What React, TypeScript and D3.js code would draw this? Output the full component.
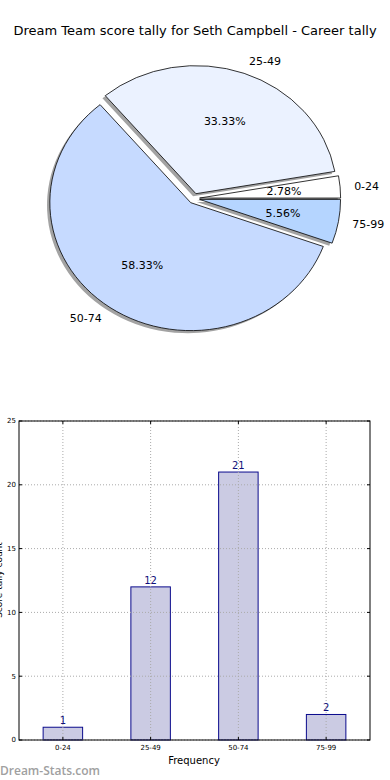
import * as d3 from 'd3'

const categories = ['0-24', '25-49', '50-74', '75-99']
const counts = [1, 12, 21, 2]
const pieColors = ['#ffffff', '#ebf2ff', '#c6daff', '#b5d5ff']
const explode = [0.04, 0.04, 0.04, 0.04]
const yTicks = [0, 5, 10, 15, 20, 25]

const title = 'Dream Team score tally for Seth Campbell - Career tally'
const yLabel = 'Score tally count'
const xLabel = 'Frequency'

export default function App() {
  const width = 390
  const height = 780

  // pie (matplotlib-style, not equal aspect so it's an ellipse)
  const cx = 194
  const cy = 198.5
  const rx = 141
  const ry = 128
  const total = d3.sum(counts)

  const pie = d3.pie<number>().sort(null)
    .startAngle(Math.PI / 2)
    .endAngle(Math.PI / 2 - 2 * Math.PI)
  const arcs = pie(counts)
  const arcGen = d3.arc<d3.PieArcDatum<number>>().innerRadius(0).outerRadius(1)

  const slices = arcs.map((a, i) => {
    const mid = (a.startAngle + a.endAngle) / 2
    const dx = Math.sin(mid)
    const dy = -Math.cos(mid)
    const ox = cx + explode[i] * rx * dx
    const oy = cy + explode[i] * ry * dy
    return { a, i, dx, dy, ox, oy, path: arcGen(a) as string }
  })

  // bars
  const left = 19
  const right = 370
  const top = 421
  const bottom = 740
  const x = d3.scaleLinear().domain([-0.5, categories.length - 0.5]).range([left, right])
  const y = d3.scaleLinear().domain([0, 25]).range([bottom, top])
  const barW = (x(0.45) - x(0))

  const font = 'DejaVu Sans, sans-serif'

  return (
    <svg width={width} height={height} style={{ position: 'absolute', left: 0, top: 0, background: '#fff' }}
      fontFamily={font}>
      <text x={195} y={35} fontSize={13} textAnchor="middle" fill="#000">{title}</text>

      {slices.map(s => (
        <path key={'sh' + s.i} d={s.path}
          transform={`translate(${s.ox - 0.02 * rx},${s.oy + 0.02 * ry}) scale(${rx},${ry})`}
          fill="#333" fillOpacity={0.45} stroke="none" />
      ))}
      {slices.map(s => (
        <path key={'w' + s.i} d={s.path}
          transform={`translate(${s.ox},${s.oy}) scale(${rx},${ry})`}
          fill={pieColors[s.i]} stroke="#000" strokeWidth={0.8} vectorEffect="non-scaling-stroke"
          strokeLinejoin="round" />
      ))}
      {slices.map(s => {
        const lx = s.ox + 1.1 * rx * s.dx
        const ly = s.oy + 1.1 * ry * s.dy
        const px = s.ox + 0.6 * rx * s.dx
        const py = s.oy + 0.6 * ry * s.dy
        return (
          <g key={'l' + s.i} fontSize={11} fill="#000">
            <text x={lx} y={ly} dy="0.35em" textAnchor={s.dx > 0 ? 'start' : 'end'}>{categories[s.i]}</text>
            <text x={px} y={py} dy="0.35em" textAnchor="middle">
              {(counts[s.i] / total * 100).toFixed(2) + '%'}
            </text>
          </g>
        )
      })}

      {/* bar chart */}
      {counts.map((v, i) => (
        <rect key={'b' + i} x={x(i) - barW / 2} y={y(v)} width={barW} height={y(0) - y(v)}
          fill="#cbcbe3" stroke="#0a0a8c" strokeWidth={1} />
      ))}
      {yTicks.map(t => (
        <line key={'gy' + t} x1={left} x2={right} y1={y(t)} y2={y(t)}
          stroke="#aaa" strokeWidth={1} strokeDasharray="1,2" />
      ))}
      {categories.map((c, i) => (
        <line key={'gx' + c} x1={x(i)} x2={x(i)} y1={top} y2={bottom}
          stroke="#aaa" strokeWidth={1} strokeDasharray="1,2" />
      ))}
      {counts.map((v, i) => (
        <text key={'v' + i} x={x(i)} y={y(v) - 3} fontSize={10} textAnchor="middle" fill="#10107a">{v}</text>
      ))}
      <rect x={left} y={top} width={right - left} height={bottom - top} fill="none" stroke="#000" strokeWidth={1} />
      {yTicks.map(t => (
        <g key={'ty' + t}>
          <line x1={left} x2={left + 3} y1={y(t)} y2={y(t)} stroke="#000" />
          <line x1={right - 3} x2={right} y1={y(t)} y2={y(t)} stroke="#000" />
          <text x={left - 3} y={y(t)} dy="0.35em" fontSize={7} textAnchor="end" fill="#000">{t}</text>
        </g>
      ))}
      {categories.map((c, i) => (
        <g key={'tx' + c}>
          <line x1={x(i)} x2={x(i)} y1={bottom} y2={bottom - 3} stroke="#000" />
          <line x1={x(i)} x2={x(i)} y1={top} y2={top + 3} stroke="#000" />
          <text x={x(i)} y={bottom + 10} fontSize={7} textAnchor="middle" fill="#000">{c}</text>
        </g>
      ))}
      <text x={194} y={764} fontSize={10} textAnchor="middle" fill="#000">{xLabel}</text>
      <text transform={`translate(2,580) rotate(-90)`} fontSize={9} textAnchor="middle" fill="#000">{yLabel}</text>
      <text x={0} y={775} fontSize={12} fontWeight={600} fontFamily="Open Sans, sans-serif" fill="#a0a0a0">Dream-Stats.com</text>
    </svg>
  )
}
